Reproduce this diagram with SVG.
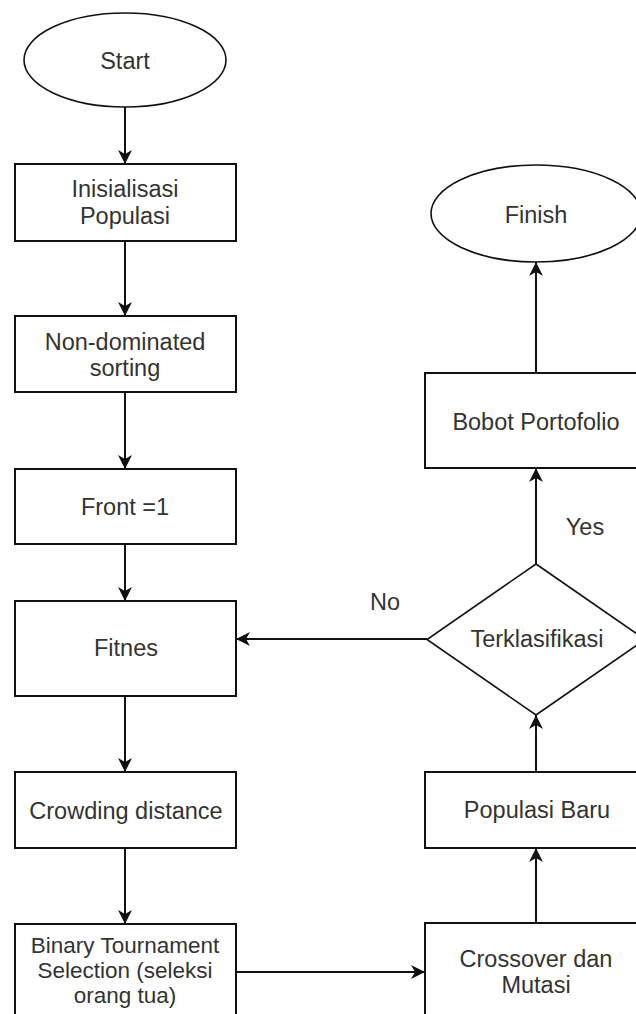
<svg xmlns="http://www.w3.org/2000/svg" width="636" height="1014" viewBox="0 0 636 1014">
<defs>
<marker id="arr" markerUnits="userSpaceOnUse" markerWidth="15" markerHeight="15" viewBox="0 0 15 15" refX="14" refY="7.5" orient="auto">
<path d="M0,0.5 L14,7.5 L0,14.5 L4,7.5 Z" fill="#111"/>
</marker>
<style>
.box{fill:#fff;stroke:#111;stroke-width:2}
.thin{fill:#fff;stroke:#111;stroke-width:1.6}
.t{font-family:"Liberation Sans",Arial,sans-serif;font-size:23.5px;fill:#333;text-anchor:middle}
.s{font-size:22.5px}
.c{fill:none;stroke:#111;stroke-width:2;marker-end:url(#arr)}
</style>
</defs>
<rect width="636" height="1014" fill="#fff"/>
<g id="connectors">
<line class="c" x1="125" y1="107" x2="125" y2="164"/>
<line class="c" x1="125" y1="241" x2="125" y2="316"/>
<line class="c" x1="125" y1="392" x2="125" y2="469"/>
<line class="c" x1="125" y1="544" x2="125" y2="601"/>
<line class="c" x1="125" y1="696" x2="125" y2="772"/>
<line class="c" x1="125" y1="848" x2="125" y2="924"/>
<line class="c" x1="236" y1="972" x2="425" y2="972"/>
<line class="c" x1="536" y1="923" x2="536" y2="848"/>
<line class="c" x1="536" y1="772" x2="536" y2="715"/>
<line class="c" x1="536" y1="564" x2="536" y2="468"/>
<line class="c" x1="536" y1="373" x2="536" y2="262"/>
<line class="c" x1="427" y1="639" x2="236" y2="639"/>
<text class="t" x="585" y="535">Yes</text>
<text class="t" x="385" y="610">No</text>
</g>
<g id="start">
<ellipse class="thin" cx="125" cy="60" rx="101" ry="47"/>
<text class="t" x="125" y="69">Start</text>
</g>
<g id="inisialisasi">
<rect class="box" x="15" y="164" width="221" height="77"/>
<text class="t" x="125" y="197">Inisialisasi</text>
<text class="t" x="125" y="224">Populasi</text>
</g>
<g id="nondominated">
<rect class="box" x="15" y="316" width="221" height="76"/>
<text class="t" x="125" y="350">Non-dominated</text>
<text class="t" x="125" y="376">sorting</text>
</g>
<g id="front">
<rect class="box" x="15" y="469" width="221" height="75"/>
<text class="t" x="125" y="515">Front =1</text>
</g>
<g id="fitnes">
<rect class="box" x="15" y="601" width="221" height="95"/>
<text class="t" x="126" y="656">Fitnes</text>
</g>
<g id="crowding">
<rect class="box" x="15" y="772" width="221" height="76"/>
<text class="t" x="126" y="819">Crowding distance</text>
</g>
<g id="binary">
<rect class="box" x="15" y="924" width="221" height="96"/>
<text class="t s" x="125" y="953">Binary Tournament</text>
<text class="t s" x="125" y="978">Selection (seleksi</text>
<text class="t s" x="125" y="1003">orang tua)</text>
</g>
<g id="finish">
<ellipse class="thin" cx="536" cy="213.5" rx="105" ry="48.5"/>
<text class="t" x="536" y="223">Finish</text>
</g>
<g id="bobot">
<rect class="box" x="425" y="373" width="222" height="95"/>
<text class="t" x="536" y="430">Bobot Portofolio</text>
</g>
<g id="terklasifikasi">
<polygon class="thin" points="536,564 645,639.5 536,715 427,639.5"/>
<text class="t" x="537" y="647">Terklasifikasi</text>
</g>
<g id="populasibaru">
<rect class="box" x="425" y="772" width="222" height="76"/>
<text class="t" x="537" y="818">Populasi Baru</text>
</g>
<g id="crossover">
<rect class="box" x="425" y="923" width="222" height="97"/>
<text class="t" x="536" y="967">Crossover dan</text>
<text class="t" x="536" y="993">Mutasi</text>
</g>
</svg>
